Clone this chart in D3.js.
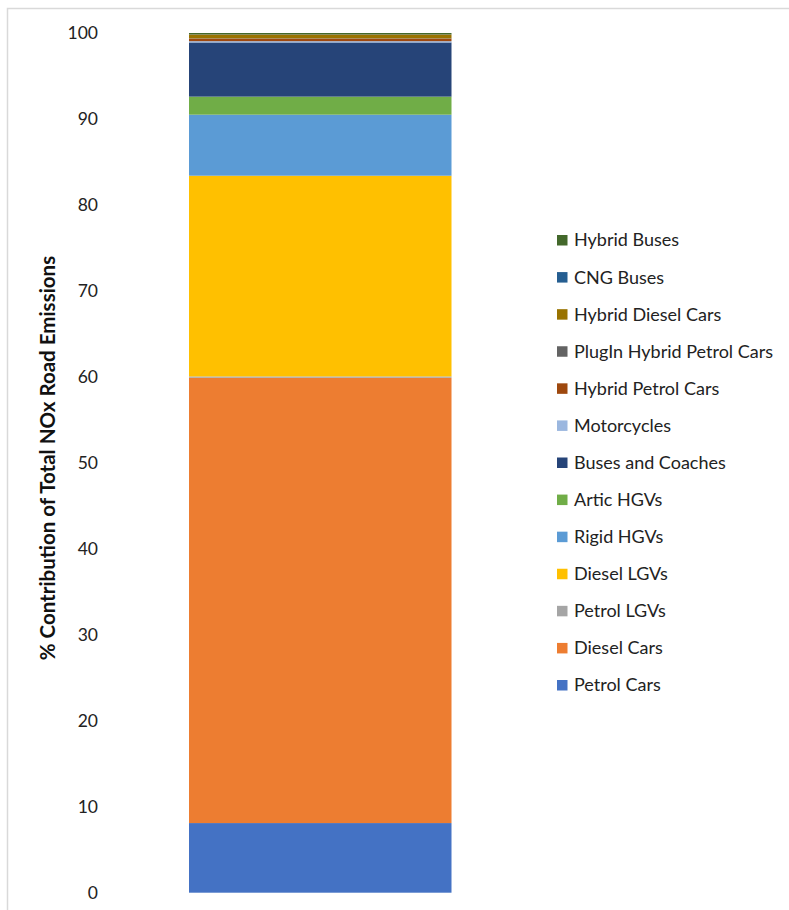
<!DOCTYPE html>
<html>
<head>
<meta charset="utf-8">
<script src="https://cdn.jsdelivr.net/npm/d3@7"></script>
<style>
  html, body { margin: 0; padding: 0; background: #fff; }
  svg { display: block; font-family: Lato, "Open Sans", sans-serif; }
</style>
</head>
<body>
<svg id="chart" width="789" height="910"></svg>
<script>
// Vehicle categories, stacked bottom to top
const categories = [
  "Petrol Cars", "Diesel Cars", "Petrol LGVs", "Diesel LGVs", "Rigid HGVs",
  "Artic HGVs", "Buses and Coaches", "Motorcycles", "Hybrid Petrol Cars",
  "PlugIn Hybrid Petrol Cars", "Hybrid Diesel Cars", "CNG Buses", "Hybrid Buses"
];
// % contribution of total NOx road emissions
const shares = [8.1, 51.8, 0.15, 23.35, 7.1, 2.1, 6.3, 0.15, 0.3, 0.03, 0.45, 0.02, 0.15];
const colors = [
  "#4472C4", "#ED7D31", "#A5A5A5", "#FFC000", "#5B9BD5", "#70AD47", "#264478",
  "#9BB7DF", "#9E480E", "#636363", "#997300", "#255E91", "#43682B"
];
const yTicks = [0, 10, 20, 30, 40, 50, 60, 70, 80, 90, 100];
const yTitle = "% Contribution of Total NOx Road Emissions";

const svg = d3.select("#chart");

// Chart area border
svg.append("rect")
  .attr("x", 7.5).attr("y", 8.5)
  .attr("width", 800).attr("height", 920)
  .attr("fill", "none").attr("stroke", "#d9d9d9").attr("stroke-width", 1.5);

const y = d3.scaleLinear().domain([0, 100]).range([892.7, 33]);
const x = d3.scaleBand().domain(["all"]).range([189, 451.5]).padding(0);

// Stack the single column
const row = { key: "all" };
categories.forEach((c, i) => row[c] = shares[i]);
const stacked = d3.stack().keys(categories)([row]);

svg.append("g")
  .selectAll("rect")
  .data(stacked)
  .join("rect")
  .attr("x", x("all"))
  .attr("width", x.bandwidth())
  .attr("y", d => y(d[0][1]))
  .attr("height", d => y(d[0][0]) - y(d[0][1]))
  .attr("fill", (d, i) => colors[i]);

// Y axis: labels only
const yAxis = svg.append("g")
  .attr("transform", "translate(98,0)")
  .call(d3.axisLeft(y).tickValues(yTicks).tickSize(0).tickPadding(0));
yAxis.select(".domain").remove();
yAxis.selectAll("text")
  .attr("font-family", "Lato, sans-serif")
  .attr("font-size", 17.5)
  .attr("fill", "#222");

// Y axis title
svg.append("text")
  .attr("transform", "translate(55,458) rotate(-90)")
  .attr("text-anchor", "middle")
  .attr("font-size", 20.5)
  .attr("font-weight", "bold")
  .attr("fill", "#111")
  .text(yTitle);

// Legend, listed top-down in reverse stacking order
const legendItems = categories.map((c, i) => ({ name: c, color: colors[i] })).reverse();
const legend = svg.append("g");
const ly = d3.scalePoint().domain(legendItems.map(d => d.name)).range([240, 685]);
const item = legend.selectAll("g")
  .data(legendItems)
  .join("g")
  .attr("transform", d => `translate(557,${ly(d.name)})`);
item.append("rect")
  .attr("x", 0).attr("y", -5)
  .attr("width", 10.5).attr("height", 10.5)
  .attr("fill", d => d.color);
item.append("text")
  .attr("x", 17).attr("y", 0)
  .attr("dy", "0.36em")
  .attr("font-size", 18)
  .attr("fill", "#222")
  .text(d => d.name);
</script>
</body>
</html>
